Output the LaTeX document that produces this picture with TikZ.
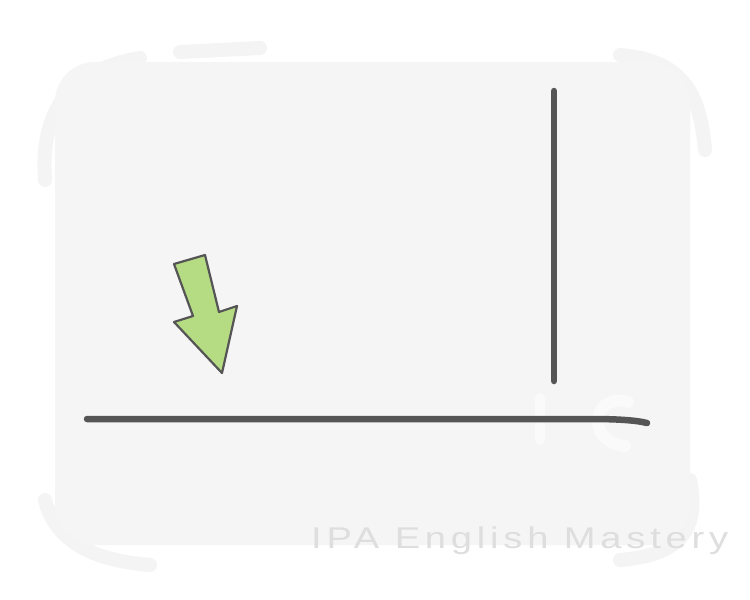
\documentclass[tikz,border=0pt]{standalone}
\usepackage{fontspec}
\newfontfamily\wmfont[FakeStretch=1.27,LetterSpace=16]{Liberation Sans}
\definecolor{bgpanel}{HTML}{F5F5F5}
\definecolor{brush}{HTML}{F4F4F4}
\definecolor{ink}{HTML}{555555}
\definecolor{arrowgreen}{HTML}{B5DC82}
\definecolor{wmgray}{HTML}{DEDEDE}
\definecolor{faint}{HTML}{FAFAFA}
\tikzset{
  inkline/.style={draw=ink, line width=6.5pt, line cap=round},
  brushstroke/.style={draw=brush, line width=14pt, line cap=round},
}
\begin{document}
\begin{tikzpicture}[x=1pt,y=-1pt]
\useasboundingbox (0,0) rectangle (750,600);
\fill[white] (0,0) rectangle (750,600);
% faint brush strokes around the panel
\draw[brushstroke] (45,180) .. controls (40,110) and (70,70) .. (140,58);
\draw[brushstroke] (180,52) -- (260,48);
\draw[brushstroke] (620,55) .. controls (680,60) and (700,90) .. (705,150);
\draw[brushstroke] (45,500) .. controls (55,540) and (90,560) .. (150,565);
\draw[brushstroke] (690,480) .. controls (700,530) and (680,555) .. (620,560);
% panel
\fill[bgpanel, rounded corners=40pt] (55,62) rectangle (690,545);
% faint marks near line end
\draw[draw=faint, line width=10pt, line cap=round] (540,398) -- (540,440);
\draw[draw=faint, line width=12pt, line cap=round] (628,402) .. controls (592,392) and (585,442) .. (625,446);
% lines
\draw[inkline] (554,91) -- (554,381);
\draw[inkline] (87,419) -- (590,419) .. controls (615,419) and (635,420) .. (647,423);
% green arrow
\draw[draw=ink, line width=2.2pt, fill=arrowgreen, line join=round]
  (174,264) -- (205,255) -- (219,312) -- (237,306) -- (222,373)
  -- (174,322) -- (193,316) -- cycle;
% watermark
\node[anchor=base west, inner sep=0pt, text=wmgray, font=\wmfont\fontsize{30}{36}\selectfont] (wm) at (311,548) {IPA English Mastery};
\end{tikzpicture}
\end{document}
